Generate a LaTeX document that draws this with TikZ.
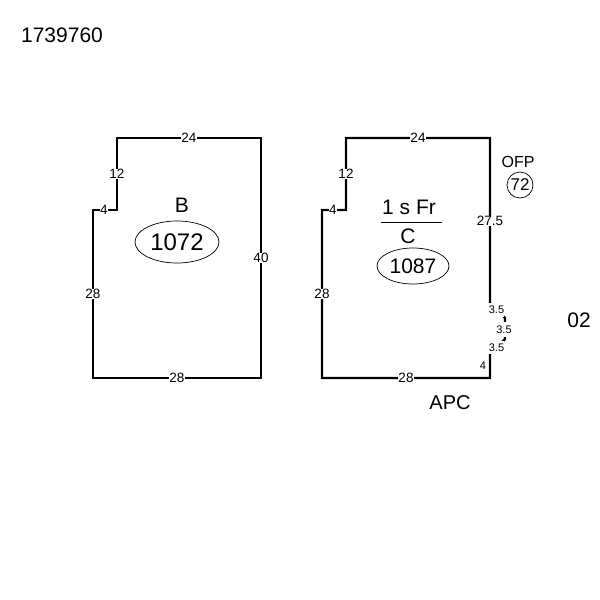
\documentclass[tikz,border=0pt]{standalone}
\usepackage{fontspec}
\setmainfont{Liberation Sans}
\tikzset{
  wall/.style={draw=black,line width=2.2pt,line cap=butt,line join=miter},
  dim/.style={fill=white,inner sep=0.6pt,font=\fontsize{13.5}{13.5}\selectfont},
  dimsmall/.style={fill=white,inner sep=0pt,font=\fontsize{11}{11}\selectfont},
  txt/.style={inner sep=0pt,font=\fontsize{21}{21}\selectfont},
  oval/.style={draw=black,line width=0.7pt,ellipse,inner sep=0pt},
}
\usetikzlibrary{shapes.geometric}
\begin{document}
\begin{tikzpicture}[x=1pt,y=-1pt]
\useasboundingbox (0,0) rectangle (600,600);
\fill[white] (0,0) rectangle (600,600);
\node[txt] (id) at (62,35) {1739760};
% left unit
\coordinate (a1) at (117,138);
\coordinate (a2) at (261,138);
\coordinate (a3) at (261,378);
\coordinate (a4) at (93,378);
\coordinate (a5) at (93,210);
\coordinate (a6) at (117,210);
\draw[wall] (a1) -- (a2) -- (a3) -- (a4) -- (a5) -- (a6) -- cycle;
\node[dim] (l1) at (189,138) {24};
\node[dim] (l2) at (261,258) {40};
\node[dim] (l3) at (177,378) {28};
\node[dim] (l4) at (93,294) {28};
\node[dim] (l5) at (104,210) {4};
\node[dim] (l6) at (117,174) {12};
\node[txt] (b) at (182,205) {B};
\node[oval,minimum width=84pt,minimum height=42pt] (bo) at (177,242) {};
\node[inner sep=0pt,font=\fontsize{24}{24}\selectfont] (bn) at (177,242) {1072};
% right unit
\coordinate (c1) at (346,138);
\coordinate (c2) at (490,138);
\coordinate (c3) at (490,303);
\coordinate (c4) at (505,318);
\coordinate (c5) at (505,339);
\coordinate (c6) at (490,354);
\coordinate (c7) at (490,378);
\coordinate (c8) at (322,378);
\coordinate (c9) at (322,210);
\coordinate (c10) at (346,210);
\draw[wall] (c1) -- (c2) -- (c3) -- (c4) -- (c5) -- (c6) -- (c7) -- (c8) -- (c9) -- (c10) -- cycle;
\node[dim] (r1) at (418,138) {24};
\node[dim] (r2) at (490,221) {27.5};
\node[dimsmall,minimum width=15pt,minimum height=14pt] (r3) at (496.5,310) {3.5};
\node[dimsmall,minimum width=15pt,minimum height=13pt] (r5) at (496.5,347.5) {3.5};
\node[dimsmall,minimum height=15pt] (r4) at (504,329.5) {3.5};
\node[dimsmall,fill=none] (r6) at (483,366) {4};
\node[dim] (r7) at (406,378) {28};
\node[dim] (r8) at (322,294) {28};
\node[dim] (r9) at (333,210) {4};
\node[dim] (r10) at (346,174) {12};
\node[txt] (fr) at (409,207) {1 s Fr};
\coordinate (fa) at (381,222);
\coordinate (fb) at (442,222);
\draw[black,line width=1pt] (fa) -- (fb);
\node[txt] (cc) at (408,236) {C};
\node[oval,minimum width=72pt,minimum height=36pt] (co) at (413,266) {};
\node[inner sep=0pt,font=\fontsize{21}{21}\selectfont] (cn) at (413,266) {1087};
\node[inner sep=0pt,font=\fontsize{16}{16}\selectfont] (ofp) at (518,162) {OFP};
\node[draw=black,line width=0.7pt,circle,minimum size=26pt,inner sep=0pt] (oc) at (520,185) {};
\node[inner sep=0pt,font=\fontsize{17}{17}\selectfont] (on) at (520,185) {72};
\node[inner sep=0pt,font=\fontsize{20}{20}\selectfont] (apc) at (450,403) {APC};
\node[txt] (n02) at (579,320) {02};
\end{tikzpicture}
\end{document}
